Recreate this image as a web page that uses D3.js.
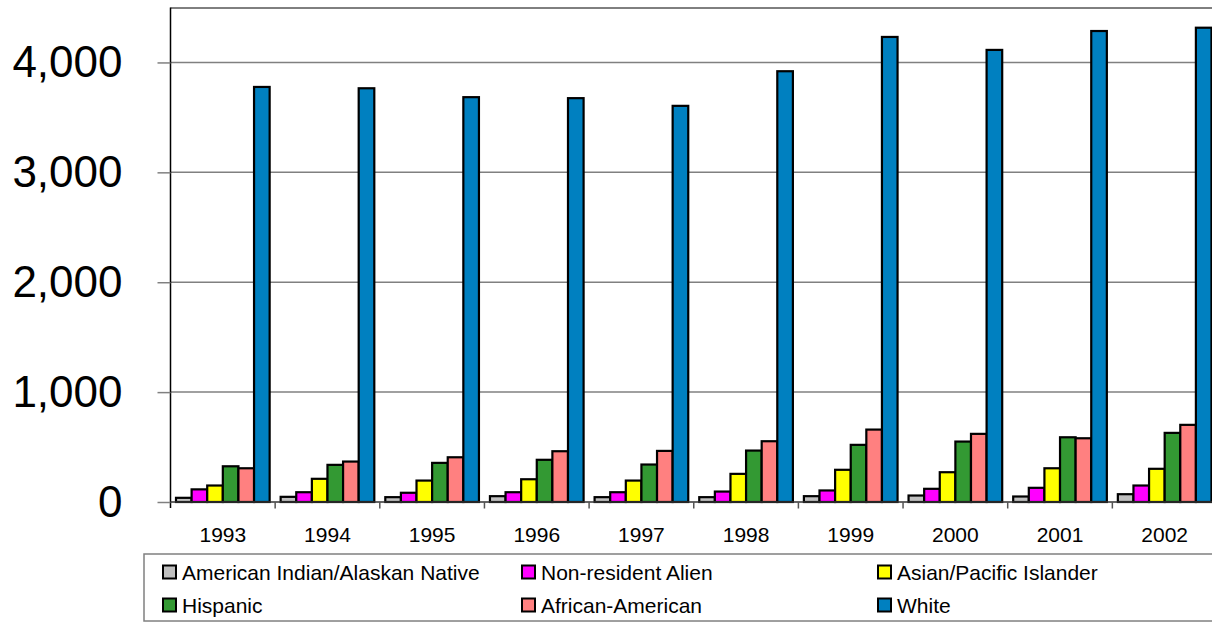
<!DOCTYPE html>
<html>
<head>
<meta charset="utf-8">
<script src="https://cdn.jsdelivr.net/npm/d3@7"></script>
<style>
  html, body { margin: 0; padding: 0; background: #fff; overflow: hidden; }
  svg { display: block; font-family: "Liberation Sans", Arial, sans-serif; }
</style>
</head>
<body>
<svg id="chart" width="1212" height="623"></svg>
<script>
const years = ["1993","1994","1995","1996","1997","1998","1999","2000","2001","2002"];
const seriesNames = ["American Indian/Alaskan Native","Non-resident Alien","Asian/Pacific Islander","Hispanic","African-American","White"];
const seriesColors = ["#C0C0C0","#FF00FF","#FFFF00","#339933","#FF8080","#0080C0"];
const americanIndian = [38, 47, 44, 53, 44, 44, 53, 59, 50, 71];
const nonResidentAlien = [115, 89, 84, 89, 89, 95, 105, 120, 129, 150];
const asianPacific = [150, 211, 195, 207, 195, 256, 293, 271, 307, 302];
const hispanic = [325, 338, 356, 384, 341, 468, 520, 550, 589, 629];
const africanAmerican = [307, 368, 407, 462, 465, 553, 659, 620, 580, 702];
const white = [3777, 3765, 3684, 3675, 3605, 3920, 4232, 4114, 4286, 4316];
const yTicks = [0, 1000, 2000, 3000, 4000];

const seriesValues = [americanIndian, nonResidentAlien, asianPacific, hispanic, africanAmerican, white];

const svg = d3.select("#chart");
const pLeft = 170.5, pRight = 1217, pTop = 7.5, pBottom = 502;

const x = d3.scaleBand().domain(years).range([pLeft, pRight]).padding(0);
const xi = d3.scaleBand().domain(d3.range(seriesNames.length))
  .range([5.5, x.bandwidth() - 5.5]).padding(0);
const y = d3.scaleLinear().domain([0, 4500]).range([pBottom, pTop]);

// gridlines
svg.append("g").selectAll("line").data(yTicks.filter(d => d > 0)).join("line")
  .attr("x1", pLeft).attr("x2", pRight)
  .attr("y1", d => y(d)).attr("y2", d => y(d))
  .attr("stroke", "#808080").attr("stroke-width", 1.5);

// plot frame top
svg.append("line").attr("x1", pLeft).attr("x2", pRight).attr("y1", pTop + 0.5).attr("y2", pTop + 0.5)
  .attr("stroke", "#000").attr("stroke-width", 1);

// y axis
const yAxis = d3.axisLeft(y).tickValues(yTicks).tickSize(13).tickPadding(35)
  .tickFormat(d3.format(","));
const gy = svg.append("g").attr("transform", `translate(${pLeft},0)`).call(yAxis);
gy.select(".domain").attr("stroke", "#000").attr("stroke-width", 1.5)
  .attr("d", `M0,${pTop}V${pBottom + 6}`);
gy.selectAll(".tick line").attr("stroke", "#808080").attr("stroke-width", 1.5);
gy.selectAll(".tick text").attr("font-size", 44).attr("fill", "#000")
  .attr("font-family", "Liberation Sans, Arial, sans-serif");

// bars
const groups = svg.append("g").selectAll("g").data(years).join("g")
  .attr("transform", d => `translate(${x(d)},0)`);
groups.selectAll("rect")
  .data((yr, i) => seriesValues.map((s, k) => ({k, v: s[i]})))
  .join("rect")
  .attr("x", d => xi(d.k))
  .attr("width", xi.bandwidth())
  .attr("y", d => y(d.v))
  .attr("height", d => pBottom - y(d.v))
  .attr("fill", d => seriesColors[d.k])
  .attr("stroke", "#000").attr("stroke-width", 2.2);

// x axis
const xAxis = d3.axisBottom(x).tickSize(0).tickPadding(25);
const gx = svg.append("g").attr("transform", `translate(0,${pBottom})`).call(xAxis);
gx.select(".domain").attr("stroke", "#333").attr("stroke-width", 1.5)
  .attr("d", `M${pLeft},0H${pRight}`);
gx.selectAll(".tick text").attr("font-size", 21).attr("fill", "#000")
  .attr("font-family", "Liberation Sans, Arial, sans-serif");
svg.append("g").selectAll("line").data(years.slice(1)).join("line")
  .attr("x1", d => x(d)).attr("x2", d => x(d))
  .attr("y1", pBottom).attr("y2", pBottom + 6.5)
  .attr("stroke", "#555").attr("stroke-width", 1.5);

// legend
svg.append("rect").attr("x", 144).attr("y", 554).attr("width", 1100).attr("height", 67)
  .attr("fill", "none").attr("stroke", "#808080").attr("stroke-width", 1.5);
const colX = [163, 522, 878];
const rowY = [572, 605];
const leg = svg.append("g").selectAll("g").data(seriesNames).join("g")
  .attr("transform", (d, i) => `translate(${colX[i % 3]},${rowY[Math.floor(i / 3)]})`);
leg.append("rect").attr("x", 0).attr("y", -6.5).attr("width", 13).attr("height", 13)
  .attr("fill", (d, i) => seriesColors[i]).attr("stroke", "#000").attr("stroke-width", 2);
leg.append("text").attr("x", 19).attr("y", 0).attr("dy", "0.36em")
  .attr("font-size", 21).attr("fill", "#000").text(d => d);
</script>
</body>
</html>
